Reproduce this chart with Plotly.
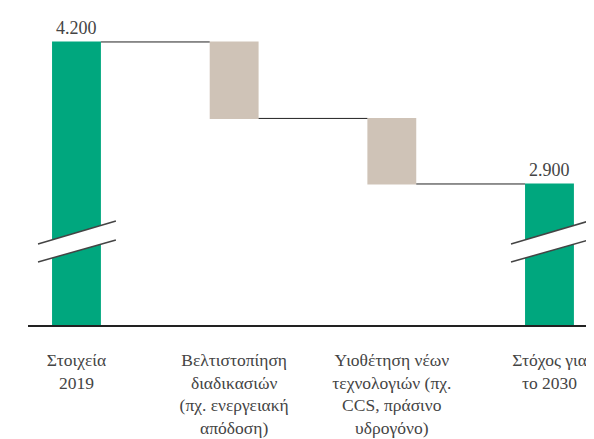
import plotly.graph_objects as go

# ---- data ----
categories = [
    "Στοιχεία<br>2019",
    "Βελτιστοπίηση<br>διαδικασιών<br>(πχ. ενεργειακή<br>απόδοση)",
    "Υιοθέτηση νέων<br>τεχνολογιών (πχ.<br>CCS, πράσινο<br>υδρογόνο)",
    "Στόχος για<br>το 2030",
]
measures = ["absolute", "relative", "relative", "total"]
values = [4200, -700, -600, 0]
value_labels = ["4.200", "", "", "2.900"]

GREEN = "#00a77e"
BEIGE = "#cfc3b7"
TEXT = "#444444"
FONT = "Liberation Serif"

xs = list(range(len(categories)))

fig = go.Figure()
fig.add_trace(go.Waterfall(
    x=xs,
    y=values,
    measure=measures,
    width=[0.31] * len(xs),
    increasing=dict(marker=dict(color=BEIGE)),
    decreasing=dict(marker=dict(color=BEIGE)),
    totals=dict(marker=dict(color=GREEN)),
    connector=dict(mode="between", line=dict(color="#222222", width=1)),
    showlegend=False,
    hoverinfo="skip",
))

# value labels above the total bars (running total from data)
annotations = []
running = 0
for xi, m, v, lab in zip(xs, measures, values, value_labels):
    if m == "absolute":
        running = v
    elif m == "relative":
        running += v
    if lab:
        annotations.append(dict(
            x=xi, y=running, xref="x", yref="y", text=lab,
            showarrow=False, yanchor="bottom", yshift=2,
            font=dict(family=FONT, size=18, color=TEXT),
        ))

# axis-break marks on the two (truncated) total bars
y_lo = 1609
y_hi = 4401
shapes = []
for xi in (0, 3):
    xa, xb = xi - 0.244, xi + 0.25
    l1 = (2351, 2561)
    l2 = (2186, 2387)
    shapes.append(dict(
        type="path", xref="x", yref="y",
        path=f"M {xa},{l1[0]} L {xb},{l1[1]} L {xb},{l2[1]} L {xa},{l2[0]} Z",
        fillcolor="white", line=dict(width=0), layer="above",
    ))
    for a, b in (l1, l2):
        shapes.append(dict(
            type="line", xref="x", yref="y",
            x0=xa, y0=a, x1=xb, y1=b,
            line=dict(color="#444444", width=1.5), layer="above",
        ))

# page body has an 8px default margin, so the figure is sized to fit the rest
fig.update_layout(
    width=586, height=431,
    margin=dict(l=20, r=4, t=12, b=114, autoexpand=False),
    paper_bgcolor="white", plot_bgcolor="white",
    font=dict(family=FONT, size=17.5, color=TEXT),
    shapes=shapes,
    annotations=annotations,
    xaxis=dict(
        range=[-0.3075, 3.257],
        tickmode="array", tickvals=xs, ticktext=categories,
        showline=True, linecolor="#222222", linewidth=1.5,
        showgrid=False, zeroline=False, ticks="",
        tickfont=dict(family=FONT, size=17.5, color=TEXT),
        ticklabelstandoff=18,
        automargin=False,
        fixedrange=True,
    ),
    yaxis=dict(range=[y_lo, y_hi], visible=False, showgrid=False,
               zeroline=False, automargin=False),
)

fig.write_html("out.html")
